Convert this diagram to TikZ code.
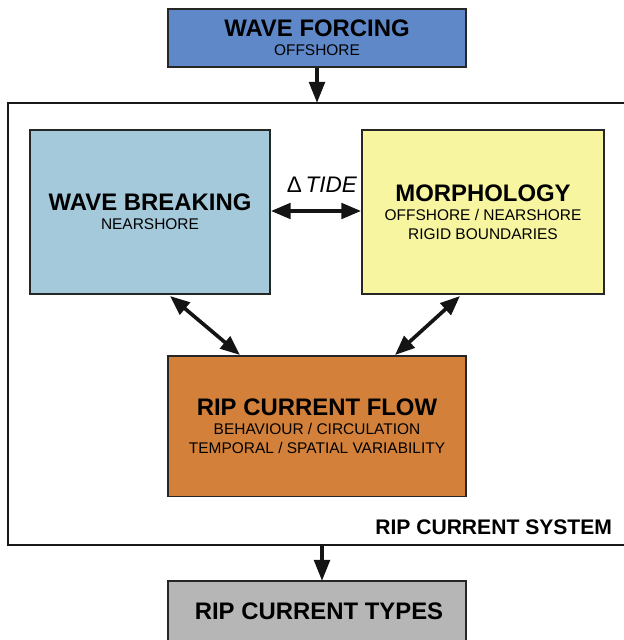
\documentclass[tikz,border=0pt]{standalone}
\usepackage{fontspec}
\setmainfont{Liberation Sans}
\usetikzlibrary{arrows.meta}
\definecolor{forcingblue}{HTML}{5F88C9}
\definecolor{breakblue}{HTML}{A4C9DB}
\definecolor{morphyellow}{HTML}{F7F59F}
\definecolor{flowbrown}{HTML}{D3813A}
\definecolor{typesgray}{HTML}{B6B6B6}
\newcommand{\boxtitle}[1]{{\fontsize{17}{16}\selectfont\bfseries #1}}
\tikzset{
  box/.style={draw=black!85, line width=1.3pt, inner sep=0pt, align=center, font=\fontsize{11}{13.5}\selectfont},
  link/.style={line width=2.6pt, black!92, {Triangle[length=14pt,width=11pt]}-{Triangle[length=14pt,width=11pt]}},
  feed/.style={line width=2.8pt, black!92, -{Triangle[length=15pt,width=11pt]}}
}
\begin{document}
\begin{tikzpicture}[x=0.025cm,y=-0.025cm]
\useasboundingbox (0,0) rectangle (624,640);

% system frame
\draw[line width=1.3pt, black!90] (640,103) -- (8,103) -- (8,545) -- (640,545);

\draw

(317, 38) node[box, fill = forcingblue, minimum width = 7.45cm, minimum height = 1.45cm](forcing){\boxtitle{WAVE FORCING}\\OFFSHORE}
(150, 212) node[box, fill = breakblue, minimum width = 6cm, minimum height = 4.1cm](breaking){\boxtitle{WAVE BREAKING}\\NEARSHORE}
(483, 212) node[box, fill = morphyellow, minimum width = 6.05cm, minimum height = 4.1cm](morph){\boxtitle{MORPHOLOGY}\\OFFSHORE / NEARSHORE\\RIGID BOUNDARIES}
(317, 426) node[box, fill = flowbrown, minimum width = 7.45cm, minimum height = 3.52cm](flow){\boxtitle{RIP CURRENT FLOW}\\BEHAVIOUR / CIRCULATION\\TEMPORAL / SPATIAL VARIABILITY}
(317, 620) node[box, fill = typesgray, minimum width = 7.45cm, minimum height = 1.95cm](types){};

\node (typeslabel) at (319, 611) {\boxtitle{RIP CURRENT TYPES}};
\node[font=\fontsize{15}{17}\selectfont\bfseries, anchor=east] (syslabel) at (617, 527) {RIP CURRENT SYSTEM};
\node[font=\fontsize{16}{18}\selectfont] (tide) at (322, 185) {Δ\,\textit{TIDE}};

\coordinate (sysin) at (316, 103);
\coordinate (sysout) at (322, 545);
\coordinate (typesin) at (322, 581);
\coordinate (breakfoot) at (170, 296);
\coordinate (flowleft) at (240, 355);
\coordinate (morphfoot) at (460, 296);
\coordinate (flowright) at (395, 355);

\draw[feed] (forcing.south) -- (forcing.south |- sysin);
\draw[feed] (sysout) -- (typesin);
\draw[link] (breaking.east |- 0,211) -- (morph.west |- 0,211);
\draw[link] (breakfoot) -- (flowleft);
\draw[link] (morphfoot) -- (flowright);

\end{tikzpicture}
\end{document}
